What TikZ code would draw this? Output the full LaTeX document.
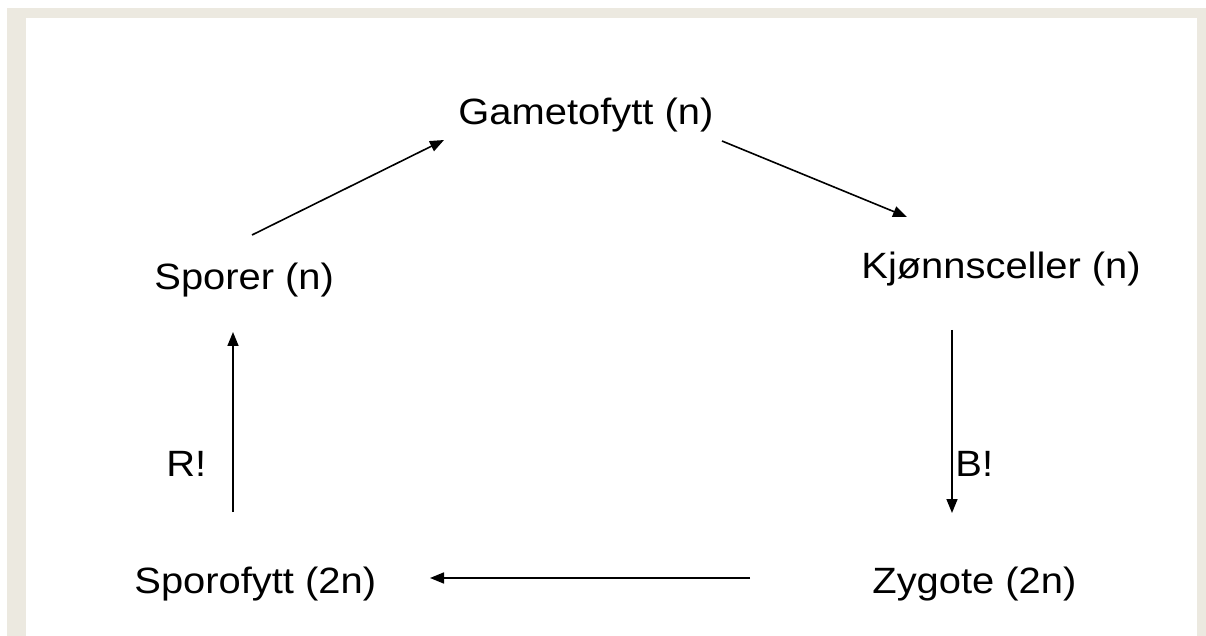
\documentclass[tikz,border=0pt]{standalone}
\usepackage{fontspec}
\setmainfont{Liberation Sans}[FakeStretch=1.09]
\usetikzlibrary{arrows.meta}
\definecolor{frame}{RGB}{236,233,224}
\begin{document}
\begin{tikzpicture}[x=0.5pt,y=-0.5pt,
  lbl/.style={anchor=base west,inner sep=0pt,font=\fontsize{18.3}{21}\selectfont},
  arr/.style={line width=0.8pt,-{Triangle[length=7pt,width=5.5pt]}}]
\useasboundingbox (0,0) rectangle (1206,636);
\fill[frame] (7,8) rectangle (1206,636);
\fill[white] (26,18) rectangle (1197,636);
\node[lbl] (gam) at (458,125) {Gametofytt (n)};
\node[lbl] (spo) at (154,290) {Sporer (n)};
\node[lbl] (kjo) at (861,279) {Kjønnsceller (n)};
\node[lbl] (sph) at (134,593) {Sporofytt (2n)};
\node[lbl] (zyg) at (872,593) {Zygote (2n)};
\node[lbl] (r) at (166,476) {R!};
\node[lbl] (b) at (955,476) {B!};
\coordinate (a1s) at (252,235); \coordinate (a1e) at (444,140);
\coordinate (a2s) at (722,141); \coordinate (a2e) at (907,217);
\coordinate (a3s) at (952,330); \coordinate (a3e) at (952,513);
\coordinate (a4s) at (750,578); \coordinate (a4e) at (430,578);
\coordinate (a5s) at (233,512); \coordinate (a5e) at (233,332);
\draw[arr] (a1s) -- (a1e);
\draw[arr] (a2s) -- (a2e);
\draw[arr] (a3s) -- (a3e);
\draw[arr] (a4s) -- (a4e);
\draw[arr] (a5s) -- (a5e);
\end{tikzpicture}
\end{document}
